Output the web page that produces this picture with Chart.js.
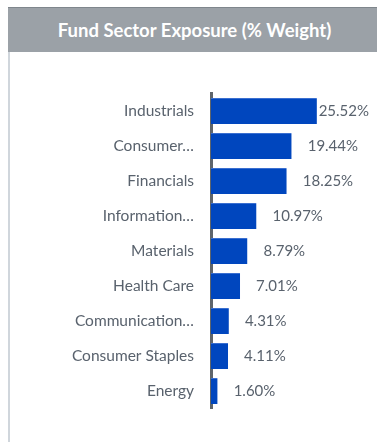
<!DOCTYPE html>
<html>
<head>
<meta charset="utf-8">
<script src="https://cdn.jsdelivr.net/npm/chart.js@4"></script>
<style>
  body { margin: 0; background: #fff; }
  #wrap { position: relative; width: 377px; height: 442px; overflow: hidden; }
  #panel { position: absolute; left: 8px; top: 7px; width: 369px; height: 435px; border-left: 2px solid #d0d6dc; box-sizing: border-box; }
  #head { position: absolute; left: 8px; top: 7px; width: 369px; height: 45px; background: #9ba1a7; border-top: 1px solid #7f868c; box-sizing: border-box;
          color: #fff; font: 700 18.5px Lato, sans-serif; text-align: center; line-height: 44px; padding-left: 4px; }
  canvas { position: absolute; left: 0; top: 0; }
</style>
</head>
<body>
<div id="wrap">
  <div id="panel"></div>
  <div id="head">Fund Sector Exposure (% Weight)</div>
  <canvas id="myChart" width="377" height="442"></canvas>
</div>
<script>
var sectors = ["Industrials", "Consumer Discretionary", "Financials", "Information Technology",
               "Materials", "Health Care", "Communication Services", "Consumer Staples", "Energy"];
var weights = [25.52, 19.44, 18.25, 10.97, 8.79, 7.01, 4.31, 4.11, 1.60];

var textColor = "#59626d";

// value labels to the right of each bar, pulled back in when they would run off the edge
var valueLabels = {
  id: "valueLabels",
  afterDatasetsDraw: function (chart) {
    var ctx = chart.ctx;
    var bars = chart.getDatasetMeta(0).data;
    ctx.save();
    ctx.font = "15px Lato, sans-serif";
    ctx.fillStyle = textColor;
    ctx.textBaseline = "middle";
    ctx.textAlign = "left";
    bars.forEach(function (bar, i) {
      var txt = weights[i].toFixed(2) + "%";
      var w = ctx.measureText(txt).width;
      var x = Math.min(bar.x + 16, 369 - w);
      ctx.fillText(txt, x, bar.y);
    });
    ctx.restore();
  }
};

var chart = new Chart(document.getElementById("myChart").getContext("2d"), {
  type: "bar",
  data: {
    labels: sectors,
    datasets: [{
      data: weights,
      backgroundColor: "#0046be",
      borderColor: "#3a6fd0",
      borderWidth: { top: 1, right: 0, bottom: 0, left: 0 },
      categoryPercentage: 1,
      barPercentage: 0.743
    }]
  },
  options: {
    indexAxis: "y",
    responsive: false,
    animation: false,
    layout: { padding: { top: 93.5, bottom: 33.5, left: 0, right: 0 } },
    plugins: { legend: { display: false }, tooltip: { enabled: false } },
    scales: {
      x: { display: false, min: 0, max: 40 },
      y: {
        grid: { display: false, drawTicks: false },
        border: { display: true, color: "#5f656b", width: 3 },
        afterFit: function (scale) { scale.width = 211; },
        ticks: {
          padding: 17,
          color: textColor,
          font: { family: "Lato", size: 15.5 },
          callback: function (value) {
            var lab = this.getLabelForValue(value);
            return lab.length > 17 ? lab.split(" ")[0] + "…" : lab;
          }
        }
      }
    }
  },
  plugins: [valueLabels]
});
</script>
</body>
</html>
